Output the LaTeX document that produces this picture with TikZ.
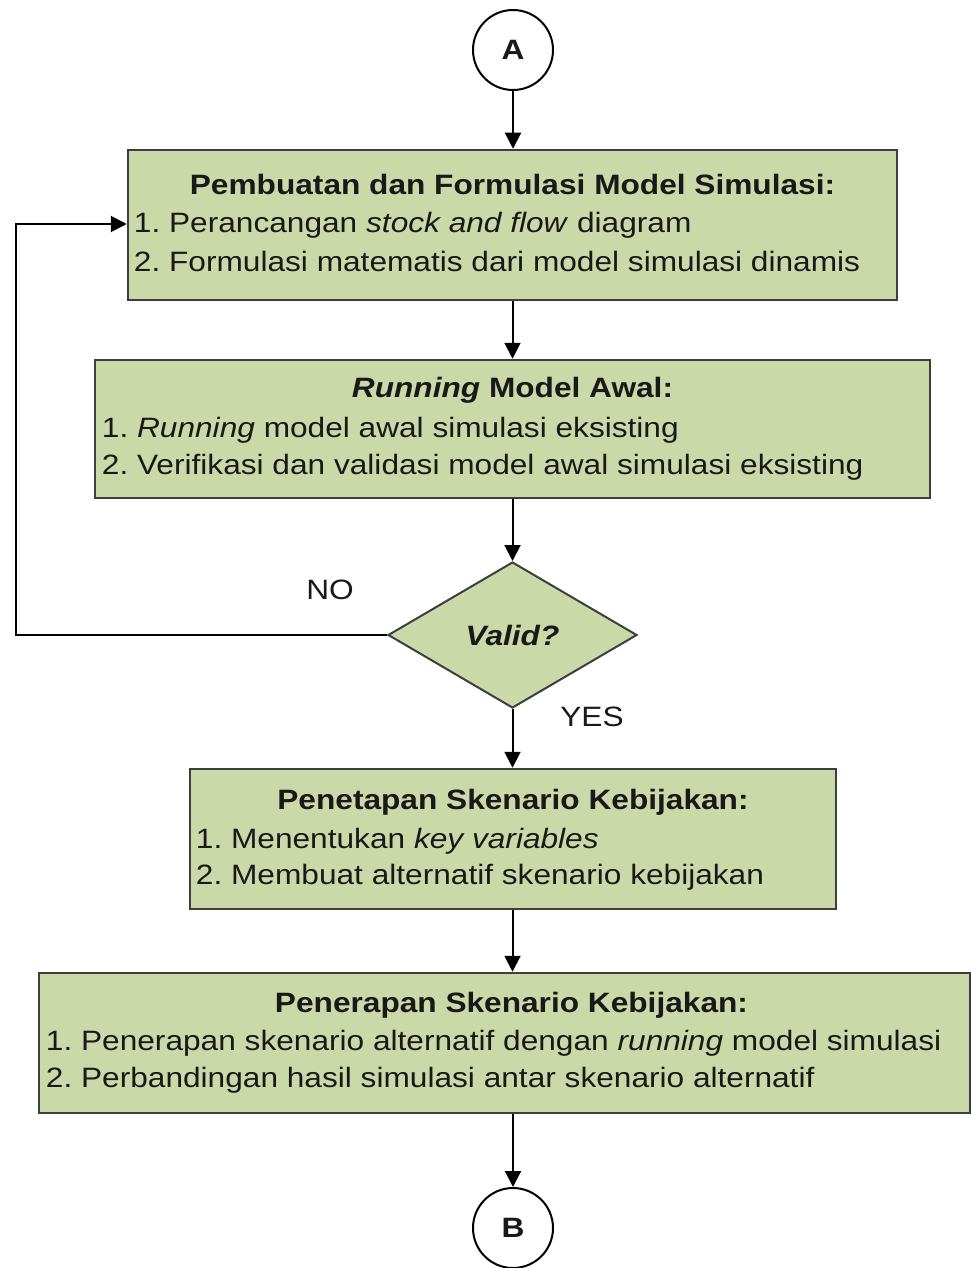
\documentclass[tikz,border=0pt]{standalone}
\usepackage{fontspec}
\setmainfont{Liberation Sans}[FakeStretch=1.13]
\usetikzlibrary{shapes.geometric,arrows.meta,calc}
\definecolor{boxfill}{RGB}{203,217,168}
\definecolor{boxline}{RGB}{62,62,62}
\definecolor{ink}{RGB}{25,25,25}
\frenchspacing
\begin{document}
\begin{tikzpicture}[x=1pt,y=-1pt,
  every node/.style={font=\fontsize{28}{34}\selectfont, text=ink},
  stepbox/.style={draw=boxline, fill=boxfill, line width=2.5pt, inner sep=0pt},
  decision/.style={diamond, draw=boxline, fill=boxfill, line width=2pt, inner sep=0pt,
    minimum width=249pt, minimum height=146pt},
  connector/.style={draw=black, fill=white, line width=2pt, circle, inner sep=0pt, minimum size=80pt},
  steptitle/.style={anchor=base, font=\fontsize{28}{34}\selectfont\bfseries},
  stepitem/.style={anchor=base west, inner sep=0pt},
  flow/.style={draw=black, line width=2pt, -{Triangle[length=16pt,width=16pt]}},
  lbl/.style={inner sep=0pt}
]
\useasboundingbox (0,0) rectangle (971,1268);

% off-page connectors
\node[connector] (A) at (513,50) {\bfseries A};
\node[connector] (B) at (513,1228) {\bfseries B};

% process steps
\node[stepbox, minimum width=769pt, minimum height=150pt] (b1) at (512.5,225) {};
\node[stepbox, minimum width=835pt, minimum height=138pt] (b2) at (512.5,429) {};
\node[decision] (D) at (512.5,635) {\bfseries\itshape Valid?};
\node[stepbox, minimum width=646pt, minimum height=140pt] (b3) at (513,839) {};
\node[stepbox, minimum width=931pt, minimum height=140pt] (b4) at (504.5,1043) {};

% step 1
\path (b1.north) ++(0,46) node[steptitle] (b1t) {Pembuatan dan Formulasi Model Simulasi:};
\path (b1.north west) ++(7,84) node[stepitem] (b1a) {1. Perancangan \textit{stock and flow} diagram};
\path (b1.north west) ++(7,123) node[stepitem] (b1b) {2. Formulasi matematis dari model simulasi dinamis};

% step 2
\path (b2.north) ++(0,39) node[steptitle] (b2t) {\textit{Running} Model Awal:};
\path (b2.north west) ++(8,79) node[stepitem] (b2a) {1. \textit{Running} model awal simulasi eksisting};
\path (b2.north west) ++(8,116) node[stepitem] (b2b) {2. Verifikasi dan validasi model awal simulasi eksisting};

% step 3
\path (b3.north) ++(0,42) node[steptitle] (b3t) {Penetapan Skenario Kebijakan:};
\path (b3.north west) ++(7,81) node[stepitem] (b3a) {1. Menentukan \textit{key variables}};
\path (b3.north west) ++(7,117) node[stepitem] (b3b) {2. Membuat alternatif skenario kebijakan};

% step 4
\path (b4.north) ++(7,41) node[steptitle] (b4t) {Penerapan Skenario Kebijakan:};
\path (b4.north west) ++(8,79) node[stepitem] (b4a) {1. Penerapan skenario alternatif dengan \textit{running} model simulasi};
\path (b4.north west) ++(8,116) node[stepitem] (b4b) {2. Perbandingan hasil simulasi antar skenario alternatif};

% flow
\draw[flow] (A.south) -- (A.south |- b1.north);
\draw[flow] (b1.south) -- (b2.north);
\draw[flow] (b2.south) -- (D.north);
\draw[flow] (D.south) -- (D.south |- b3.north);
\draw[flow] (b3.south -| D.south) -- (D.south |- b4.north);
\draw[flow] (b4.south -| B.north) -- (B.north);

% feedback loop when the model is not valid
\coordinate (loopL) at (16,224);
\draw[flow] (D.west) -| (loopL) -- (b1.west |- loopL);

\node[lbl] (no) at (330,590) {NO};
\node[lbl] (yes) at (592,717) {YES};
\end{tikzpicture}
\end{document}
